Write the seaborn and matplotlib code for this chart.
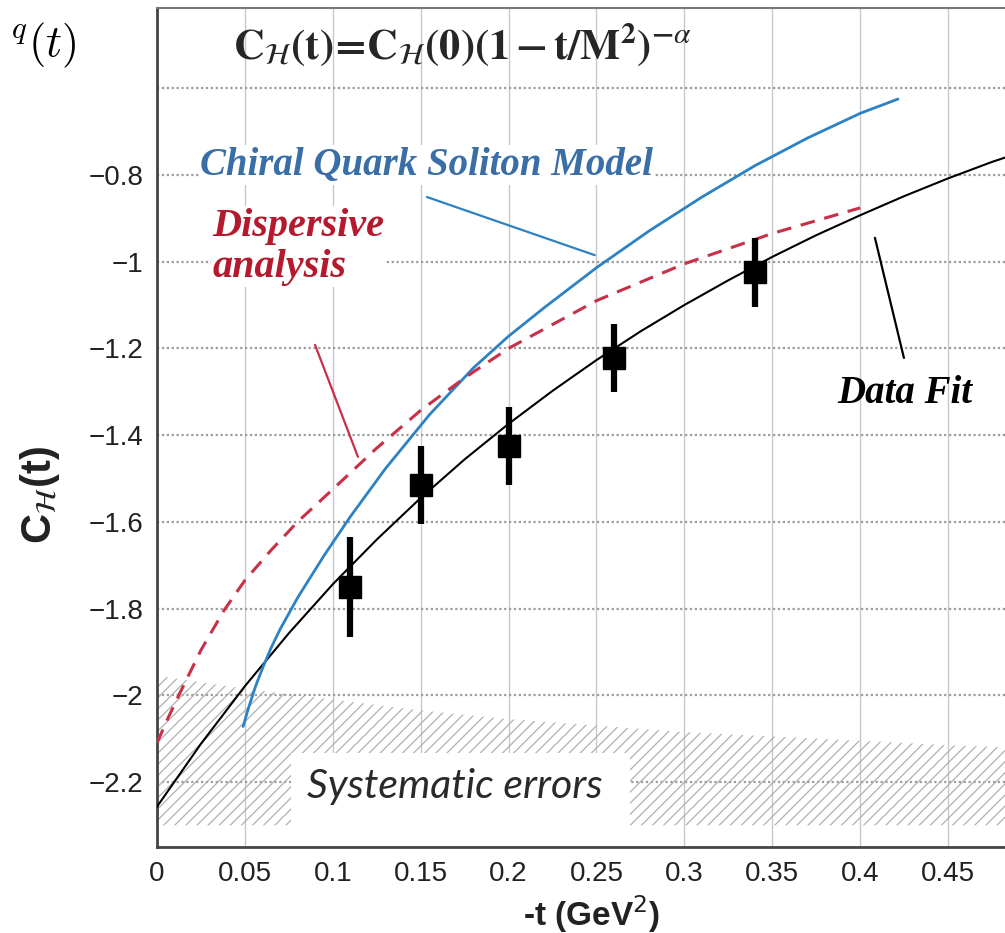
import numpy as np
import pandas as pd
import matplotlib
matplotlib.use("Agg")
import matplotlib.pyplot as plt
import seaborn as sns
from matplotlib.patches import Rectangle

# ---------------- data ----------------
fit_t = [0, 0.025, 0.05, 0.075, 0.1, 0.125, 0.15, 0.175, 0.2, 0.225, 0.25,
         0.275, 0.3, 0.325, 0.35, 0.375, 0.4, 0.425, 0.45, 0.475, 0.4824]
fit_c = [-2.257, -2.112, -1.979, -1.857, -1.744, -1.641, -1.545, -1.456, -1.374,
         -1.298, -1.227, -1.161, -1.100, -1.043, -0.989, -0.939, -0.893, -0.849,
         -0.808, -0.770, -0.760]

cqsm_t = [0.049, 0.052, 0.056, 0.060, 0.065, 0.070, 0.080, 0.095, 0.110, 0.130,
          0.155, 0.180, 0.200, 0.220, 0.250, 0.280, 0.310, 0.340, 0.370, 0.400,
          0.4215]
cqsm_c = [-2.072, -2.030, -1.980, -1.938, -1.890, -1.848, -1.775, -1.678, -1.588,
          -1.477, -1.353, -1.245, -1.172, -1.107, -1.014, -0.929, -0.851, -0.779,
          -0.715, -0.658, -0.625]

disp_t = [0, 0.006, 0.013, 0.025, 0.038, 0.05, 0.065, 0.08, 0.1, 0.125, 0.15,
          0.175, 0.2, 0.25, 0.3, 0.35, 0.4]
disp_c = [-2.110, -2.055, -1.995, -1.896, -1.805, -1.735, -1.665, -1.600, -1.525,
          -1.430, -1.343, -1.268, -1.200, -1.090, -1.005, -0.935, -0.876]

data_t = [0.11, 0.15, 0.20, 0.26, 0.34]
data_c = [-1.750, -1.515, -1.425, -1.222, -1.025]
data_err = [0.115, 0.090, 0.090, 0.078, 0.080]

sys_t = [0, 0.05, 0.1, 0.15, 0.2, 0.25, 0.3, 0.35, 0.4, 0.45, 0.4824]
sys_top = [-1.955, -1.985, -2.010, -2.035, -2.055, -2.070, -2.085, -2.095,
           -2.105, -2.115, -2.120]
sys_bottom = -2.30

xticks = [0, 0.05, 0.1, 0.15, 0.2, 0.25, 0.3, 0.35, 0.4, 0.45]
xtick_labels = ["0", "0.05", "0.1", "0.15", "0.2", "0.25", "0.3", "0.35", "0.4", "0.45"]
yticks = [-2.2, -2.0, -1.8, -1.6, -1.4, -1.2, -1.0, -0.8, -0.6]
ytick_labels = ["\u22122.2", "\u22122", "\u22121.8", "\u22121.6", "\u22121.4",
                "\u22121.2", "\u22121", "\u22120.8", ""]

# ---------------- style ----------------
sns.set_theme(style="white")
plt.rcParams["font.family"] = ["Liberation Sans", "DejaVu Sans"]
plt.rcParams["hatch.color"] = "#b0b0b0"
plt.rcParams["hatch.linewidth"] = 0.9

XMAX, YMIN, YMAX = 0.4824, -2.350, -0.415

fig = plt.figure(figsize=(10.05, 9.33), dpi=100)
ax = fig.add_axes([157 / 1005, 1 - 847 / 933, (1005 - 157) / 1005, (847 - 8) / 933])
ax.set_xlim(0, XMAX)
ax.set_ylim(YMIN, YMAX)

# grid
ax.vlines(xticks, YMIN, YMAX, colors="#c8c8c8", linewidth=1.0, zorder=0.3)
ax.hlines(yticks, 0, XMAX, colors="#9c9c9c", linewidth=1.6,
          linestyles=(0, (1, 1.2)), zorder=0.3)

# systematic error band
ax.fill_between(sys_t, [sys_bottom] * len(sys_t), sys_top, facecolor="none",
                edgecolor="#b0b0b0", hatch="///", linewidth=0, zorder=1)
ax.add_patch(Rectangle((0.076, YMIN), 0.193, -2.133 - YMIN, facecolor="white",
                       edgecolor="none", zorder=2))
ax.text(0.0855, -2.237, "Systematic errors", fontsize=29.5, style="italic",
        family=["Lato", "DejaVu Sans"], color="#2a2a2a", va="baseline", zorder=2.1)

# curves
sns.lineplot(x=fit_t, y=fit_c, ax=ax, color="black", linewidth=1.5,
             sort=False, estimator=None, zorder=4)
sns.lineplot(x=cqsm_t, y=cqsm_c, ax=ax, color="#2c82c4", linewidth=2.0,
             sort=False, estimator=None, zorder=4)
sns.lineplot(x=disp_t, y=disp_c, ax=ax, color="#c73047", linewidth=2.2,
             sort=False, estimator=None, zorder=4)
ax.lines[-1].set_dashes((4.8, 3.2))

# data points
ax.errorbar(data_t, data_c, yerr=data_err, fmt="s", color="black", markersize=16,
            elinewidth=4.5, capsize=0, zorder=5)

# labels with pointer lines
lab_font = ["Liberation Serif", "DejaVu Serif"]
ax.text(0.0245, -0.80, "Chiral Quark Soliton Model", fontsize=28,
        fontweight="bold", style="italic", family=lab_font, color="#3a6ea6",
        va="baseline", zorder=6,
        bbox=dict(facecolor="white", edgecolor="none", pad=1))
ax.annotate("", xy=(0.249, -0.985), xytext=(0.1536, -0.851),
            arrowprops=dict(arrowstyle="-", color="#2c82c4", lw=1.6,
                            shrinkA=0, shrinkB=0), zorder=6)
ax.text(0.0315, -1.035, "Dispersive\nanalysis", fontsize=29, fontweight="bold",
        style="italic", family=lab_font, color="#b5192e", va="baseline",
        linespacing=1.15, zorder=6,
        bbox=dict(facecolor="white", edgecolor="none", pad=1))
ax.annotate("", xy=(0.1143, -1.450), xytext=(0.0899, -1.192),
            arrowprops=dict(arrowstyle="-", color="#c73047", lw=1.6,
                            shrinkA=0, shrinkB=0), zorder=6)
ax.text(0.387, -1.326, "Data Fit", fontsize=28, fontweight="bold", style="italic",
        family=lab_font, color="black", va="baseline", zorder=6)
ax.annotate("", xy=(0.4249, -1.222), xytext=(0.4084, -0.945),
            arrowprops=dict(arrowstyle="-", color="black", lw=1.6,
                            shrinkA=0, shrinkB=0), zorder=6)

# formula
ax.text(0.174, -0.50,
        r"$\mathbf{C}_{\mathcal{H}}\mathbf{(t)\!=\!C}_{\mathcal{H}}\mathbf{(0)(1-t/M^{2})}^{\mathbf{-}\alpha}$",
        fontsize=30.5, ha="center", va="center", math_fontfamily="stix", zorder=6)

# axes styling
ax.set_xticks(xticks)
ax.set_xticklabels(xtick_labels)
ax.set_yticks(yticks)
ax.set_yticklabels(ytick_labels)
ax.set_xticks(np.arange(0, 0.49, 0.01), minor=True)
ax.set_yticks(np.arange(-2.35, -0.4, 0.05), minor=True)
ax.tick_params(axis="both", which="both", direction="in", colors="#444444",
               labelcolor="#222222", labelsize=20)
ax.tick_params(axis="x", which="major", length=17, width=1.5, pad=10)
ax.tick_params(axis="x", which="minor", length=9, width=1.3)
ax.tick_params(axis="y", which="major", length=17, width=1.5, pad=10)
ax.tick_params(axis="y", which="minor", length=6, width=1.3)
for side in ["left", "bottom"]:
    ax.spines[side].set_color("#444444")
    ax.spines[side].set_linewidth(2.0)
ax.spines["top"].set_color("#777777")
ax.spines["top"].set_linewidth(1.5)
ax.spines["right"].set_visible(False)

ax.set_xlabel("-t (GeV$^{2}$)", fontsize=24, fontweight="bold", color="#222222")
ax.xaxis.set_label_coords(0.512, -0.055)
ax.set_ylabel(r"C$_{\mathcal{H}}$(t)", fontsize=30, fontweight="bold",
              color="#222222", math_fontfamily="stix")
ax.yaxis.set_label_coords(-0.112, 0.42)

# cut-off symbol at the top-left corner of the source figure
fig.text(77 / 1005, 1 - 56 / 933, r"$^{q}(t)$", fontsize=32, ha="right",
         va="baseline", math_fontfamily="cm", color="black")

fig.savefig("out.png", dpi=100)
